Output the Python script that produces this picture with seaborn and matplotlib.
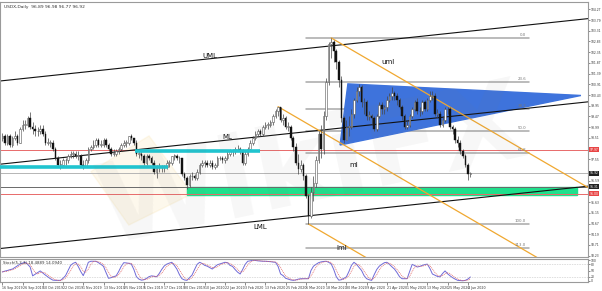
import numpy as np
import pandas as pd
import matplotlib
matplotlib.use("Agg")
import matplotlib.pyplot as plt
import seaborn as sns
from matplotlib.patches import Polygon, Rectangle

sns.set_theme(style="white")
plt.rcParams['font.family'] = ['DejaVu Sans']

# ---------------- data ----------------
date_labels = ["16 Sep 2019", "26 Sep 2019", "10 Oct 2019", "22 Oct 2019", "1 Nov 2019",
               "13 Nov 2019", "25 Nov 2019", "5 Dec 2019", "17 Dec 2019", "30 Dec 2019",
               "10 Jan 2020", "22 Jan 2020", "3 Feb 2020", "13 Feb 2020", "25 Feb 2020",
               "6 Mar 2020", "18 Mar 2020", "30 Mar 2020", "9 Apr 2020", "21 Apr 2020",
               "1 May 2020", "13 May 2020", "25 May 2020", "4 Jun 2020"]
label_every = 8

close = [98.6, 98.3, 98.6, 98.2, 98.5, 98.6, 98.3, 98.9, 99.1, 99.1,
         99.4, 99.0, 98.9, 98.8, 98.8, 98.9, 98.7, 98.3, 98.3, 98.3,
         98.0, 97.6, 97.3, 97.3, 97.5, 97.5, 97.7, 97.8, 97.8, 97.7,
         97.7, 97.3, 97.2, 97.5, 98.0, 98.1, 98.2, 98.4, 98.2, 98.2,
         98.4, 98.2, 98.0, 97.8, 97.8, 97.9, 98.0, 98.2, 98.3, 98.3,
         98.6, 98.5, 98.3, 97.8, 97.8, 97.7, 97.4, 97.7, 97.6, 97.4,
         97.0, 97.2, 97.2, 97.2, 97.2, 97.4, 97.4, 97.7, 97.7, 97.6,
         97.6, 96.9, 96.7, 96.4, 96.8, 96.8, 96.7, 97.0, 97.3, 97.4,
         97.4, 97.3, 97.4, 97.2, 97.3, 97.6, 97.6, 97.5, 97.6, 97.8,
         97.9, 97.9, 98.0, 98.0, 97.9, 97.4, 97.8, 98.0, 98.3, 98.5,
         98.7, 98.8, 98.7, 99.0, 99.1, 99.1, 99.2, 99.5, 99.7, 99.9,
         99.3, 99.4, 99.0, 99.0, 98.5, 98.1, 97.4, 97.1, 97.3, 96.8,
         95.9, 95.0, 96.1, 96.5, 97.5, 98.7, 98.0, 99.5, 101.0, 102.7,
         102.8, 102.4, 101.9, 101.1, 99.4, 98.4, 99.0, 99.0, 99.6, 100.2,
         100.6, 100.8, 100.1, 100.1, 99.5, 99.5, 99.4, 98.9, 99.5, 100.0,
         99.8, 99.9, 100.2, 100.4, 100.5, 100.4, 100.2, 99.9, 99.5, 99.0,
         99.1, 99.5, 99.8, 100.1, 99.7, 99.7, 100.1, 99.8, 100.2, 100.4,
         100.4, 99.6, 99.6, 99.1, 99.3, 99.8, 99.8, 99.0, 98.9, 98.4,
         98.3, 97.9, 97.7, 97.3, 96.89, 96.92]
high = [98.75, 98.7, 98.7, 98.7, 98.6, 98.8, 98.7, 99.0, 99.3, 99.3,
        99.5, 99.67, 99.2, 99.1, 99.0, 99.1, 99.1, 98.8, 98.5, 98.4,
        98.4, 98.1, 97.7, 97.5, 97.6, 97.6, 97.8, 97.9, 97.9, 97.9,
        97.9, 97.8, 97.5, 97.6, 98.1, 98.2, 98.4, 98.5, 98.5, 98.4,
        98.5, 98.5, 98.3, 98.1, 98.0, 98.0, 98.1, 98.3, 98.4, 98.4,
        98.6, 98.7, 98.5, 98.4, 97.9, 97.9, 97.8, 97.8, 97.8, 97.7,
        97.5, 97.3, 97.4, 97.3, 97.3, 97.5, 97.5, 97.7, 97.8, 97.8,
        97.7, 97.6, 97.0, 96.8, 96.9, 97.0, 96.9, 97.1, 97.4, 97.5,
        97.5, 97.5, 97.5, 97.5, 97.4, 97.7, 97.7, 97.7, 97.7, 97.9,
        98.0, 98.0, 98.1, 98.2, 98.1, 98.0, 97.9, 98.1, 98.4, 98.6,
        98.8, 98.9, 98.9, 99.1, 99.2, 99.2, 99.3, 99.6, 99.8, 99.91,
        99.9, 99.6, 99.5, 99.2, 99.1, 98.6, 98.3, 97.8, 97.5, 97.4,
        96.9, 96.0, 96.3, 96.8, 97.7, 98.8, 99.1, 99.7, 101.2, 102.8,
        102.99, 102.9, 102.5, 102.0, 101.3, 99.5, 99.3, 99.5, 99.8, 100.3,
        100.8, 100.93, 100.9, 100.3, 100.2, 99.7, 99.6, 99.5, 99.6, 100.1,
        100.1, 100.0, 100.4, 100.5, 100.8, 100.6, 100.5, 100.3, 100.0, 99.6,
        99.3, 99.6, 99.9, 100.2, 100.3, 99.9, 100.2, 100.2, 100.3, 100.6,
        100.6, 100.5, 99.8, 99.7, 99.5, 99.9, 99.9, 99.9, 99.1, 99.0,
        98.6, 98.4, 98.0, 97.8, 97.4, 96.98]
low = [98.35, 98.2, 98.2, 98.1, 98.1, 98.4, 98.2, 98.3, 98.8, 98.9,
       99.0, 98.9, 98.7, 98.6, 98.6, 98.7, 98.6, 98.2, 98.2, 98.1,
       97.9, 97.5, 97.2, 97.1, 97.2, 97.3, 97.4, 97.6, 97.6, 97.6,
       97.5, 97.2, 97.1, 97.2, 97.4, 97.9, 98.0, 98.1, 98.1, 98.1,
       98.1, 98.1, 97.9, 97.7, 97.7, 97.7, 97.8, 97.9, 98.1, 98.1,
       98.2, 98.4, 98.2, 97.7, 97.6, 97.5, 97.3, 97.3, 97.5, 97.3,
       96.9, 96.7, 97.0, 97.0, 97.0, 97.1, 97.2, 97.3, 97.5, 97.5,
       97.4, 96.8, 96.6, 96.2, 96.3, 96.6, 96.6, 96.6, 96.9, 97.2,
       97.2, 97.2, 97.2, 97.1, 97.1, 97.2, 97.5, 97.4, 97.4, 97.5,
       97.7, 97.7, 97.8, 97.9, 97.8, 97.3, 97.3, 97.7, 97.9, 98.2,
       98.4, 98.6, 98.6, 98.6, 98.9, 98.9, 99.0, 99.1, 99.4, 99.5,
       99.2, 99.1, 98.9, 98.8, 98.4, 97.9, 97.3, 96.9, 97.0, 96.6,
       95.8, 94.65, 94.9, 95.7, 96.3, 97.4, 97.6, 97.8, 99.3, 100.9,
       102.1, 101.9, 101.6, 100.8, 99.2, 98.3, 98.4, 98.6, 98.9, 99.4,
       100.1, 100.4, 99.9, 99.6, 99.3, 99.3, 99.1, 98.8, 98.8, 99.4,
       99.6, 99.6, 99.7, 100.1, 100.2, 100.2, 100.0, 99.8, 99.3, 98.9,
       98.9, 99.0, 99.4, 99.7, 99.6, 99.5, 99.6, 99.7, 99.7, 100.1,
       100.2, 99.5, 99.4, 99.0, 99.0, 99.2, 99.6, 98.9, 98.7, 98.3,
       98.1, 97.8, 97.6, 97.2, 96.6, 96.77]
first_open = 98.5

stoch_k = [43, 47, 50, 54, 57, 65, 73, 81, 86, 90, 80, 67, 24, 32, 40, 48, 38, 28, 19, 10,
           3, 2, 2, 2, 12, 25, 50, 75, 85, 90, 70, 45, 25, 55, 90, 95, 95, 95, 88, 80,
           70, 40, 12, 15, 20, 24, 45, 70, 88, 87, 85, 81, 55, 20, 8, 3, 5, 12, 20, 24,
           22, 19, 35, 55, 72, 81, 86, 90, 75, 57, 30, 10, 4, 2, 15, 28, 55, 80, 90, 84,
           75, 71, 64, 57, 68, 78, 82, 86, 90, 88, 75, 70, 55, 42, 33, 55, 80, 95, 97, 100,
           99, 97, 96, 95, 95, 94, 93, 91, 90, 70, 33, 25, 12, 8, 4, 2, 4, 8, 10, 10,
           10, 10, 50, 71, 80, 88, 92, 94, 95, 90, 82, 55, 20, 3, 5, 12, 19, 45, 75, 90,
           80, 65, 50, 25, 10, 5, 2, 30, 55, 71, 80, 88, 90, 80, 68, 57, 40, 20, 10, 10,
           10, 45, 80, 74, 67, 70, 75, 79, 81, 60, 33, 27, 21, 19, 35, 48, 34, 24, 15, 8,
           2, 1, 0, 2, 8, 18.49]
stoch_levels = [80, 20]

price_ticks = [104.27, 103.79, 103.31, 102.83, 102.35, 101.87, 101.39, 100.91, 100.43,
               99.95, 99.47, 98.99, 98.51, 98.03, 97.55, 97.07, 96.59, 96.11, 95.63,
               95.15, 94.67, 94.19, 93.71, 93.23]

# black pitchfork: value at bar 0 and slope per bar
black_fork_names = ["UML", "ML", "LML"]
black_fork_start = [101.07, 97.34, 93.56]
black_fork_slope = 0.01203
black_label_bar = [82, 89, 102]

# orange pitchfork pivots (bar, price)
orange_pivot_bar = [109, 130, 121]
orange_pivot_price = [99.91, 102.99, 94.65]

# triangle (bar, price)
tri_bar = [133.5, 136.6, 228.7]
tri_price = [98.19, 100.93, 100.41]

# fibonacci
fib_hi, fib_lo = 102.99, 94.65
fib_levels = [0.0, 23.6, 38.2, 50.0, 61.8, 100.0, 113.0]
fib_bar_range = [120, 208]

# horizontal levels
red_levels = [97.97, 96.00]
current_price = 96.92
zone_top, zone_bottom = 96.31, 95.95
zone_bar_range = [73, 227]
cyan_levels = [97.20, 97.92]
cyan_bar_ranges = [[-1, 65.5], [52.5, 102]]

# ---------------- layout ----------------
W, H = 602, 291
fig = plt.figure(figsize=(W / 100, H / 100), dpi=100)
fig.patch.set_facecolor("white")


def rect(x0, y0, x1, y1):
    return [x0 / W, 1 - y1 / H, (x1 - x0) / W, (y1 - y0) / H]


ax = fig.add_axes(rect(0, 2, 588, 257))
axs = fig.add_axes(rect(0, 259, 588, 282))
XL = (-0.91, 231.5)
for a in (ax, axs):
    a.set_facecolor("white")
    a.set_xlim(*XL)
    for s in a.spines.values():
        s.set_color("#9a9a9a")
        s.set_linewidth(0.8)
ax.set_ylim(93.17, 104.60)

n = len(close)
idx = np.arange(n)
opens = np.array([first_open] + close[:-1])
closes = np.array(close)

# watermark
fig.text(0.52, 0.42, "WikiFX", fontsize=80, fontweight="bold", color="#777777",
         alpha=0.06, rotation=12, ha="center", va="center")
ax.add_patch(Polygon([[50, 94.6], [75, 96.0], [58, 98.6], [35, 97.0]], closed=True,
                     color="#f2c14e", alpha=0.10, zorder=0.5))

# green zone
ax.add_patch(Rectangle((zone_bar_range[0], zone_bottom), zone_bar_range[1] - zone_bar_range[0],
                       zone_top - zone_bottom, color="#1fe08c", zorder=1))

# horizontal lines
for lv in red_levels:
    ax.axhline(lv, color="#e86a6a", lw=0.7, zorder=1.2)
ax.axhline(current_price, color="#b5b5b5", lw=0.7, zorder=1.2)
ax.axhline(zone_top, color="#6a6a6a", lw=0.7, zorder=1.2)

# fib lines
for lv in fib_levels:
    p = fib_hi - (fib_hi - fib_lo) * lv / 100
    ax.plot(fib_bar_range, [p, p], color="#a8a8a8", lw=1.1, zorder=1.5)
    ax.text(fib_bar_range[1] - 1, p + 0.05, f"{lv:.1f}", fontsize=2.8, color="#777",
            ha="right", va="bottom", zorder=6)

# triangle
ax.add_patch(Polygon(list(zip(tri_bar, tri_price)), closed=True, color="#3e73dc", zorder=1.8))

# cyan lines
for lv, (b0, b1) in zip(cyan_levels, cyan_bar_ranges):
    ax.plot([b0, b1], [lv, lv], color="#20c4cf", lw=2.6, zorder=4, solid_capstyle="butt")

# black pitchfork
xs = np.array(XL)
for name, start, lb in zip(black_fork_names, black_fork_start, black_label_bar):
    ax.plot(xs, start + black_fork_slope * xs, color="#111111", lw=0.8, zorder=2.5)
    below = name == "LML"
    ax.text(lb, start + black_fork_slope * lb + (-0.12 if below else 0), name, fontsize=5,
            color="#111", ha="center", va="top" if below else "bottom", zorder=6)

# orange pitchfork
A = (orange_pivot_bar[0], orange_pivot_price[0])
B = (orange_pivot_bar[1], orange_pivot_price[1])
C = (orange_pivot_bar[2], orange_pivot_price[2])
mid = ((B[0] + C[0]) / 2, (B[1] + C[1]) / 2)
slope = (mid[1] - A[1]) / (mid[0] - A[0])
for (b0, p0), nm, lb, off in zip([B, A, C], ["uml", "ml", "lml"], [150, 137, 132],
                                 [0.1, -0.9, -0.5]):
    ax.plot([b0, XL[1]], [p0, p0 + slope * (XL[1] - b0)], color="#f0a830", lw=0.9, zorder=2.6)
    ax.text(lb, p0 + slope * (lb - b0) + off, nm, fontsize=5, color="#111",
            ha="left", va="bottom", zorder=6)

# candles
hi_b = np.maximum(opens, closes)
lo_b = np.minimum(opens, closes)
bull = closes >= opens
ax.vlines(idx, low, high, color="#444444", lw=0.5, zorder=3)
hgt = np.maximum(hi_b - lo_b, 0.02)
ax.bar(idx[bull], hgt[bull], bottom=lo_b[bull], width=0.62, color="white",
       edgecolor="#555555", linewidth=0.4, zorder=3.2)
ax.bar(idx[~bull], hgt[~bull], bottom=lo_b[~bull], width=0.62, color="#111111",
       edgecolor="#111111", linewidth=0.3, zorder=3.2)

# price axis
marked = [red_levels[0], red_levels[1], current_price, zone_top]
shown_ticks = [v for v in price_ticks if min(abs(v - m) for m in marked) > 0.2]
ax.yaxis.tick_right()
ax.set_yticks(shown_ticks)
ax.set_yticklabels([f"{v:.2f}" for v in shown_ticks])
ax.tick_params(axis="y", labelsize=2.15, length=1.5, width=0.4, pad=0.6, colors="#333",
               right=True, left=False)
ax.set_xticks([])
for lv, fc in [(red_levels[0], "#e84545"), (red_levels[1], "#e84545"),
               (current_price, "#222222"), (zone_top, "#222222")]:
    ax.text(1.003, lv, f"{lv:.2f}", transform=ax.get_yaxis_transform(), fontsize=2.15,
            color="white", va="center", ha="left",
            bbox=dict(boxstyle="square,pad=0.15", fc=fc, ec="none"), clip_on=False, zorder=10)

fig.text(4 / W, 1 - 7 / H, "USDX,Daily  96.89 96.98 96.77 96.92", fontsize=3.2, color="#333",
         ha="left", va="center")

# stochastic panel
kser = pd.Series(stoch_k, dtype=float)
dser = kser.rolling(3, min_periods=1).mean()
sdf = pd.DataFrame({"bar": idx, "K": kser, "D": dser})
sns.lineplot(data=sdf, x="bar", y="K", ax=axs, color="#6f6ad8", lw=0.7)
sns.lineplot(data=sdf, x="bar", y="D", ax=axs, color="#e06060", lw=0.5, linestyle=(0, (1.5, 1.2)))
for lv in stoch_levels:
    axs.axhline(lv, color="#999", lw=0.4, linestyle=(0, (1, 2)))
axs.set_ylim(-6, 106)
axs.set_xlabel("")
axs.set_ylabel("")
axs.yaxis.tick_right()
axs.set_yticks([0, 20, 50, 80, 100])
axs.tick_params(axis="y", labelsize=2.15, length=1.5, width=0.4, pad=0.6, colors="#333")
axs.set_xticks(np.arange(0, len(date_labels) * label_every, label_every))
axs.set_xticklabels(date_labels, ha="left")
axs.tick_params(axis="x", labelsize=2.3, length=2, width=0.4, pad=0.8, colors="#333", bottom=True)
axs.text(0.005, 0.93, "Stoch(5,3,3) 18.4889 14.0940", transform=axs.transAxes, fontsize=2.8,
         color="#333", ha="left", va="top")

fig.savefig("out.png", dpi=100, facecolor="white")
